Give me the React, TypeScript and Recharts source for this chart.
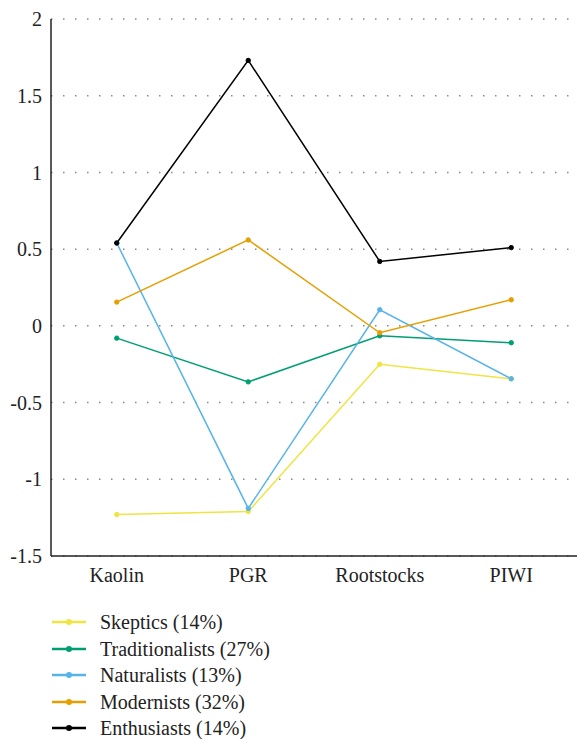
import { LineChart, Line, XAxis, YAxis, CartesianGrid } from "recharts"

const categories = ["Kaolin", "PGR", "Rootstocks", "PIWI"]

const skeptics = [-1.23, -1.21, -0.25, -0.345]
const traditionalists = [-0.08, -0.365, -0.065, -0.11]
const naturalists = [0.54, -1.19, 0.105, -0.345]
const modernists = [0.155, 0.56, -0.045, 0.17]
const enthusiasts = [0.54, 1.73, 0.42, 0.51]

const yTicks = [-1.5, -1, -0.5, 0, 0.5, 1, 1.5, 2]

const series = [
  { key: "skeptics", name: "Skeptics (14%)", color: "#f0e442", values: skeptics },
  { key: "traditionalists", name: "Traditionalists (27%)", color: "#009e73", values: traditionalists },
  { key: "naturalists", name: "Naturalists (13%)", color: "#56b4e9", values: naturalists },
  { key: "modernists", name: "Modernists (32%)", color: "#e69f00", values: modernists },
  { key: "enthusiasts", name: "Enthusiasts (14%)", color: "#000000", values: enthusiasts },
]

const data = categories.map((name, i) => {
  const row: Record<string, string | number> = { name }
  series.forEach((s) => {
    row[s.key] = s.values[i]
  })
  return row
})

const font = "'Liberation Serif', serif"

export default function App() {
  return (
    <div style={{ position: "absolute", left: 0, top: 0, width: 578, height: 739, fontFamily: font }}>
      <LineChart width={578} height={600} data={data} margin={{ top: 19, right: 1, left: 0, bottom: 4 }}>
        <CartesianGrid vertical={false} stroke="#888" strokeWidth={1.5} strokeDasharray="1.5 10.5" />
        <XAxis
          dataKey="name"
          scale="band"
          height={40}
          tickLine={false}
          axisLine={{ stroke: "#222", strokeWidth: 1.5 }}
          tick={{ fill: "#222", fontSize: 20, fontFamily: font }}
          tickMargin={6}
        />
        <YAxis
          width={51}
          domain={[-1.5, 2]}
          ticks={yTicks}
          interval={0}
          tickLine={false}
          axisLine={{ stroke: "#222", strokeWidth: 1.5 }}
          tick={{ fill: "#222", fontSize: 20, fontFamily: font }}
          tickMargin={3}
        />
        {series.map((s) => (
          <Line
            key={s.key}
            dataKey={s.key}
            name={s.name}
            type="linear"
            stroke={s.color}
            strokeWidth={1.5}
            dot={{ r: 2.2, fill: s.color, stroke: s.color, strokeWidth: 1 }}
            isAnimationActive={false}
          />
        ))}
      </LineChart>
      <div style={{ position: "absolute", left: 52, top: 609 }}>
        {series.map((s) => (
          <div key={s.key} style={{ display: "flex", alignItems: "center", height: 26.5 }}>
            <svg width={48} height={10} style={{ flex: "none" }}>
              <line x1={0} y1={5} x2={34} y2={5} stroke={s.color} strokeWidth={2.5} />
              <circle cx={17} cy={5} r={3} fill={s.color} />
            </svg>
            <span style={{ fontSize: 20, color: "#222", lineHeight: "20px" }}>{s.name}</span>
          </div>
        ))}
      </div>
    </div>
  )
}
